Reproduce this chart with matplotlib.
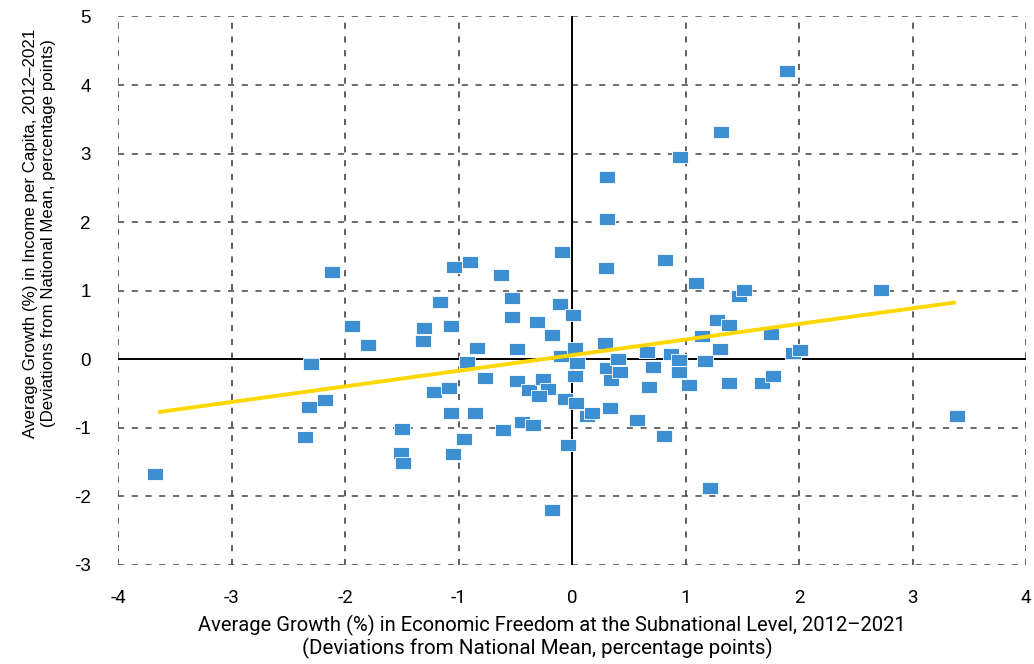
import matplotlib
matplotlib.use("Agg")
import matplotlib.pyplot as plt

plt.rcParams["axes.unicode_minus"] = False

# subnational regions: growth in economic freedom vs growth in income per capita
freedom_dev = [
    -3.68, -2.12, -1.94, -1.80, -2.30, -2.18, -2.32, -2.36, -1.50, -1.51,
    -1.49, -1.31, -1.32, -1.17, -1.04, -0.90, -1.07, -1.22, -1.09, -1.07,
    -1.05, -0.95, -0.93, -0.84, -0.86, -0.77, -0.63, -0.61, -0.53, -0.53,
    -0.49, -0.49, -0.44, -0.35, -0.38, -0.31, -0.26, -0.21, -0.29, -0.18,
    -0.18, -0.11, -0.09, -0.10, -0.06, -0.04, 0.01, 0.02, 0.04, 0.02,
    0.03, 0.13, 0.17, 0.29, 0.30, 0.31, 0.31, 0.31, 0.34, 0.33,
    0.40, 0.42, 0.57, 0.66, 0.68, 0.71, 0.82, 0.81, 0.87, 0.94,
    0.94, 0.95, 1.03, 1.09, 1.14, 1.17, 1.21, 1.28, 1.30, 1.31,
    1.38, 1.38, 1.47, 1.51, 1.67, 1.75, 1.77, 1.89, 1.95, 2.01,
    2.72, 3.39,
]
income_dev = [
    -1.68, 1.27, 0.48, 0.21, -0.07, -0.59, -0.70, -1.14, -1.02, -1.36,
    -1.51, 0.46, 0.27, 0.84, 1.34, 1.42, 0.49, -0.48, -0.42, -0.79,
    -1.38, -1.16, -0.04, 0.17, -0.78, -0.27, 1.23, -1.03, 0.90, 0.62,
    0.15, -0.31, -0.91, -0.96, -0.45, 0.54, -0.29, -0.43, -0.53, 0.36,
    -2.20, 0.81, 1.56, 0.05, -0.58, -1.25, 0.65, 0.16, -0.06, -0.24,
    -0.64, -0.82, -0.78, 0.24, 1.33, 2.66, 2.05, -0.13, -0.30, -0.71,
    0.00, -0.18, -0.89, 0.10, -0.40, -0.11, 1.45, -1.12, 0.07, -0.01,
    -0.18, 2.95, -0.38, 1.11, 0.34, -0.02, -1.88, 0.58, 0.15, 3.31,
    0.50, -0.35, 0.92, 1.01, -0.35, 0.37, -0.24, 4.20, 0.09, 0.13,
    1.01, -0.82,
]

# fitted trend line end points
trend_x = [-3.65, 3.38]
trend_y = [-0.77, 0.83]

x_ticks = [-4, -3, -2, -1, 0, 1, 2, 3, 4]
y_ticks = [-3, -2, -1, 0, 1, 2, 3, 4, 5]

BLUE = "#3d8fd4"
YELLOW = "#ffd700"

fig = plt.figure(figsize=(10.34, 6.64), dpi=100)
ax = fig.add_axes([0.1146, 0.1491, 0.8777, 0.8261])

ax.set_xlim(-4, 4)
ax.set_ylim(-3, 5)
ax.set_xticks(x_ticks)
ax.set_yticks(y_ticks)

for s in ax.spines.values():
    s.set_visible(False)

# dashed grid, including outer frame
for v in x_ticks:
    if v != 0:
        ax.axvline(v, color="#333333", lw=1.1, dashes=(4, 5), zorder=1)
for v in y_ticks:
    if v != 0:
        ax.axhline(v, color="#444444", lw=1.1, dashes=(4, 5), zorder=1)
ax.axhline(0, color="black", lw=1.4, zorder=1.5)
ax.axvline(0, color="black", lw=1.4, zorder=1.5)

rect = [(-1, -0.8), (1, -0.8), (1, 0.8), (-1, 0.8), (-1, -0.8)]
ax.scatter(freedom_dev, income_dev, marker=rect, s=125, color=BLUE,
           edgecolors="white", linewidths=0.6, zorder=3)
ax.plot(trend_x, trend_y, color=YELLOW, lw=2.8, solid_capstyle="butt", zorder=4)

ax.tick_params(length=0)
ax.tick_params(axis="x", pad=17)
ax.tick_params(axis="y", pad=20)
for lab in ax.get_xticklabels():
    lab.set_fontfamily("Roboto")
    lab.set_fontsize(13.5)
for lab in ax.get_yticklabels():
    lab.set_fontfamily("Liberation Sans")
    lab.set_fontsize(13.5)

# x label: two lines, each placed as in the original
fig.text(552 / 1034, 1 - 625 / 664,
         "Average Growth (%) in Economic Freedom at the Subnational Level, 2012\u20132021",
         family="Roboto", fontsize=14.5, ha="center", va="center")
fig.text(537 / 1034, 1 - 648 / 664,
         "(Deviations from National Mean, percentage points)",
         family="Roboto", fontsize=14.8, ha="center", va="center")

ax.set_ylabel("Average Growth (%) in Income per Capita, 2012\u20132021\n"
              "(Deviations from National Mean, percentage points)",
              fontfamily="Liberation Sans", fontsize=12.2, linespacing=1.2)
ax.yaxis.set_label_coords(-0.069, 0.605)

fig.savefig("out.png", dpi=100)
